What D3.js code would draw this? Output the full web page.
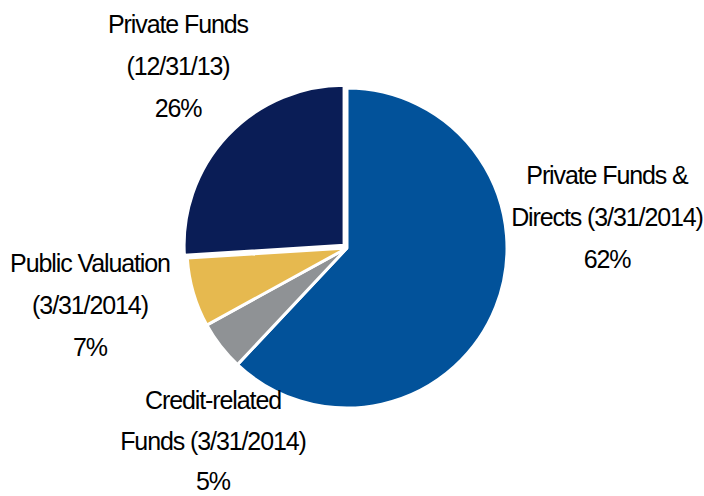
<!DOCTYPE html>
<html>
<head>
<meta charset="utf-8">
<script src="https://cdn.jsdelivr.net/npm/d3@7"></script>
<style>
  body { margin: 0; background: #fff; }
  .lbl { font-family: "Liberation Sans", Arial, sans-serif; font-size: 25px; fill: #000; letter-spacing: -1.1px; }
</style>
</head>
<body>
<script>
var w = 704;
var h = 496;

// slices, clockwise from 12 o'clock
var names = ["Private Funds & Directs", "Credit-related Funds", "Public Valuation", "Private Funds"];
var values = [62, 5, 7, 26];
var labelLines = [
  ["Private Funds &", "Directs (3/31/2014)", "62%"],
  ["Credit-related", "Funds (3/31/2014)", "5%"],
  ["Public Valuation", "(3/31/2014)", "7%"],
  ["Private Funds", "(12/31/13)", "26%"]
];
var colors = ["#02529A", "#8F9295", "#E6B94F", "#0A1D56"];

// layout only
var cx = 347, cy = 248, r = 160;
var explode = [0, 0, 0, 4];
var labelAt = [[607, 184], [213, 409], [90, 272], [178, 33]];
var lineGap = [42, 40.5, 42, 42];

var svg = d3.select("body")
    .append("svg")
    .attr("width", w)
    .attr("height", h);

var pie = d3.pie()
    .sort(null)
    .value(function(d) { return d; });

var arc = d3.arc()
    .innerRadius(0)
    .outerRadius(r);

var arcs = pie(values);

var g = svg.append("g")
    .attr("transform", "translate(" + cx + "," + cy + ")");

g.selectAll("path")
    .data(arcs)
    .enter()
    .append("path")
    .attr("d", arc)
    .attr("fill", function(d, i) { return colors[i]; })
    .attr("stroke", "#fff")
    .attr("stroke-width", 3)
    .attr("stroke-linejoin", "miter")
    .attr("transform", function(d, i) {
      var a = (d.startAngle + d.endAngle) / 2;
      return "translate(" + (Math.sin(a) * explode[i]) + "," + (-Math.cos(a) * explode[i]) + ")";
    });

var labels = svg.selectAll("text.lbl")
    .data(labelLines)
    .enter()
    .append("text")
    .attr("class", "lbl")
    .attr("text-anchor", "middle");

labels.selectAll("tspan")
    .data(function(d, i) { return d.map(function(t) { return { t: t, i: i }; }); })
    .enter()
    .append("tspan")
    .attr("x", function(d) { return labelAt[d.i][0]; })
    .attr("y", function(d, j) { return labelAt[d.i][1] + j * lineGap[d.i]; })
    .text(function(d) { return d.t; });
</script>
</body>
</html>
